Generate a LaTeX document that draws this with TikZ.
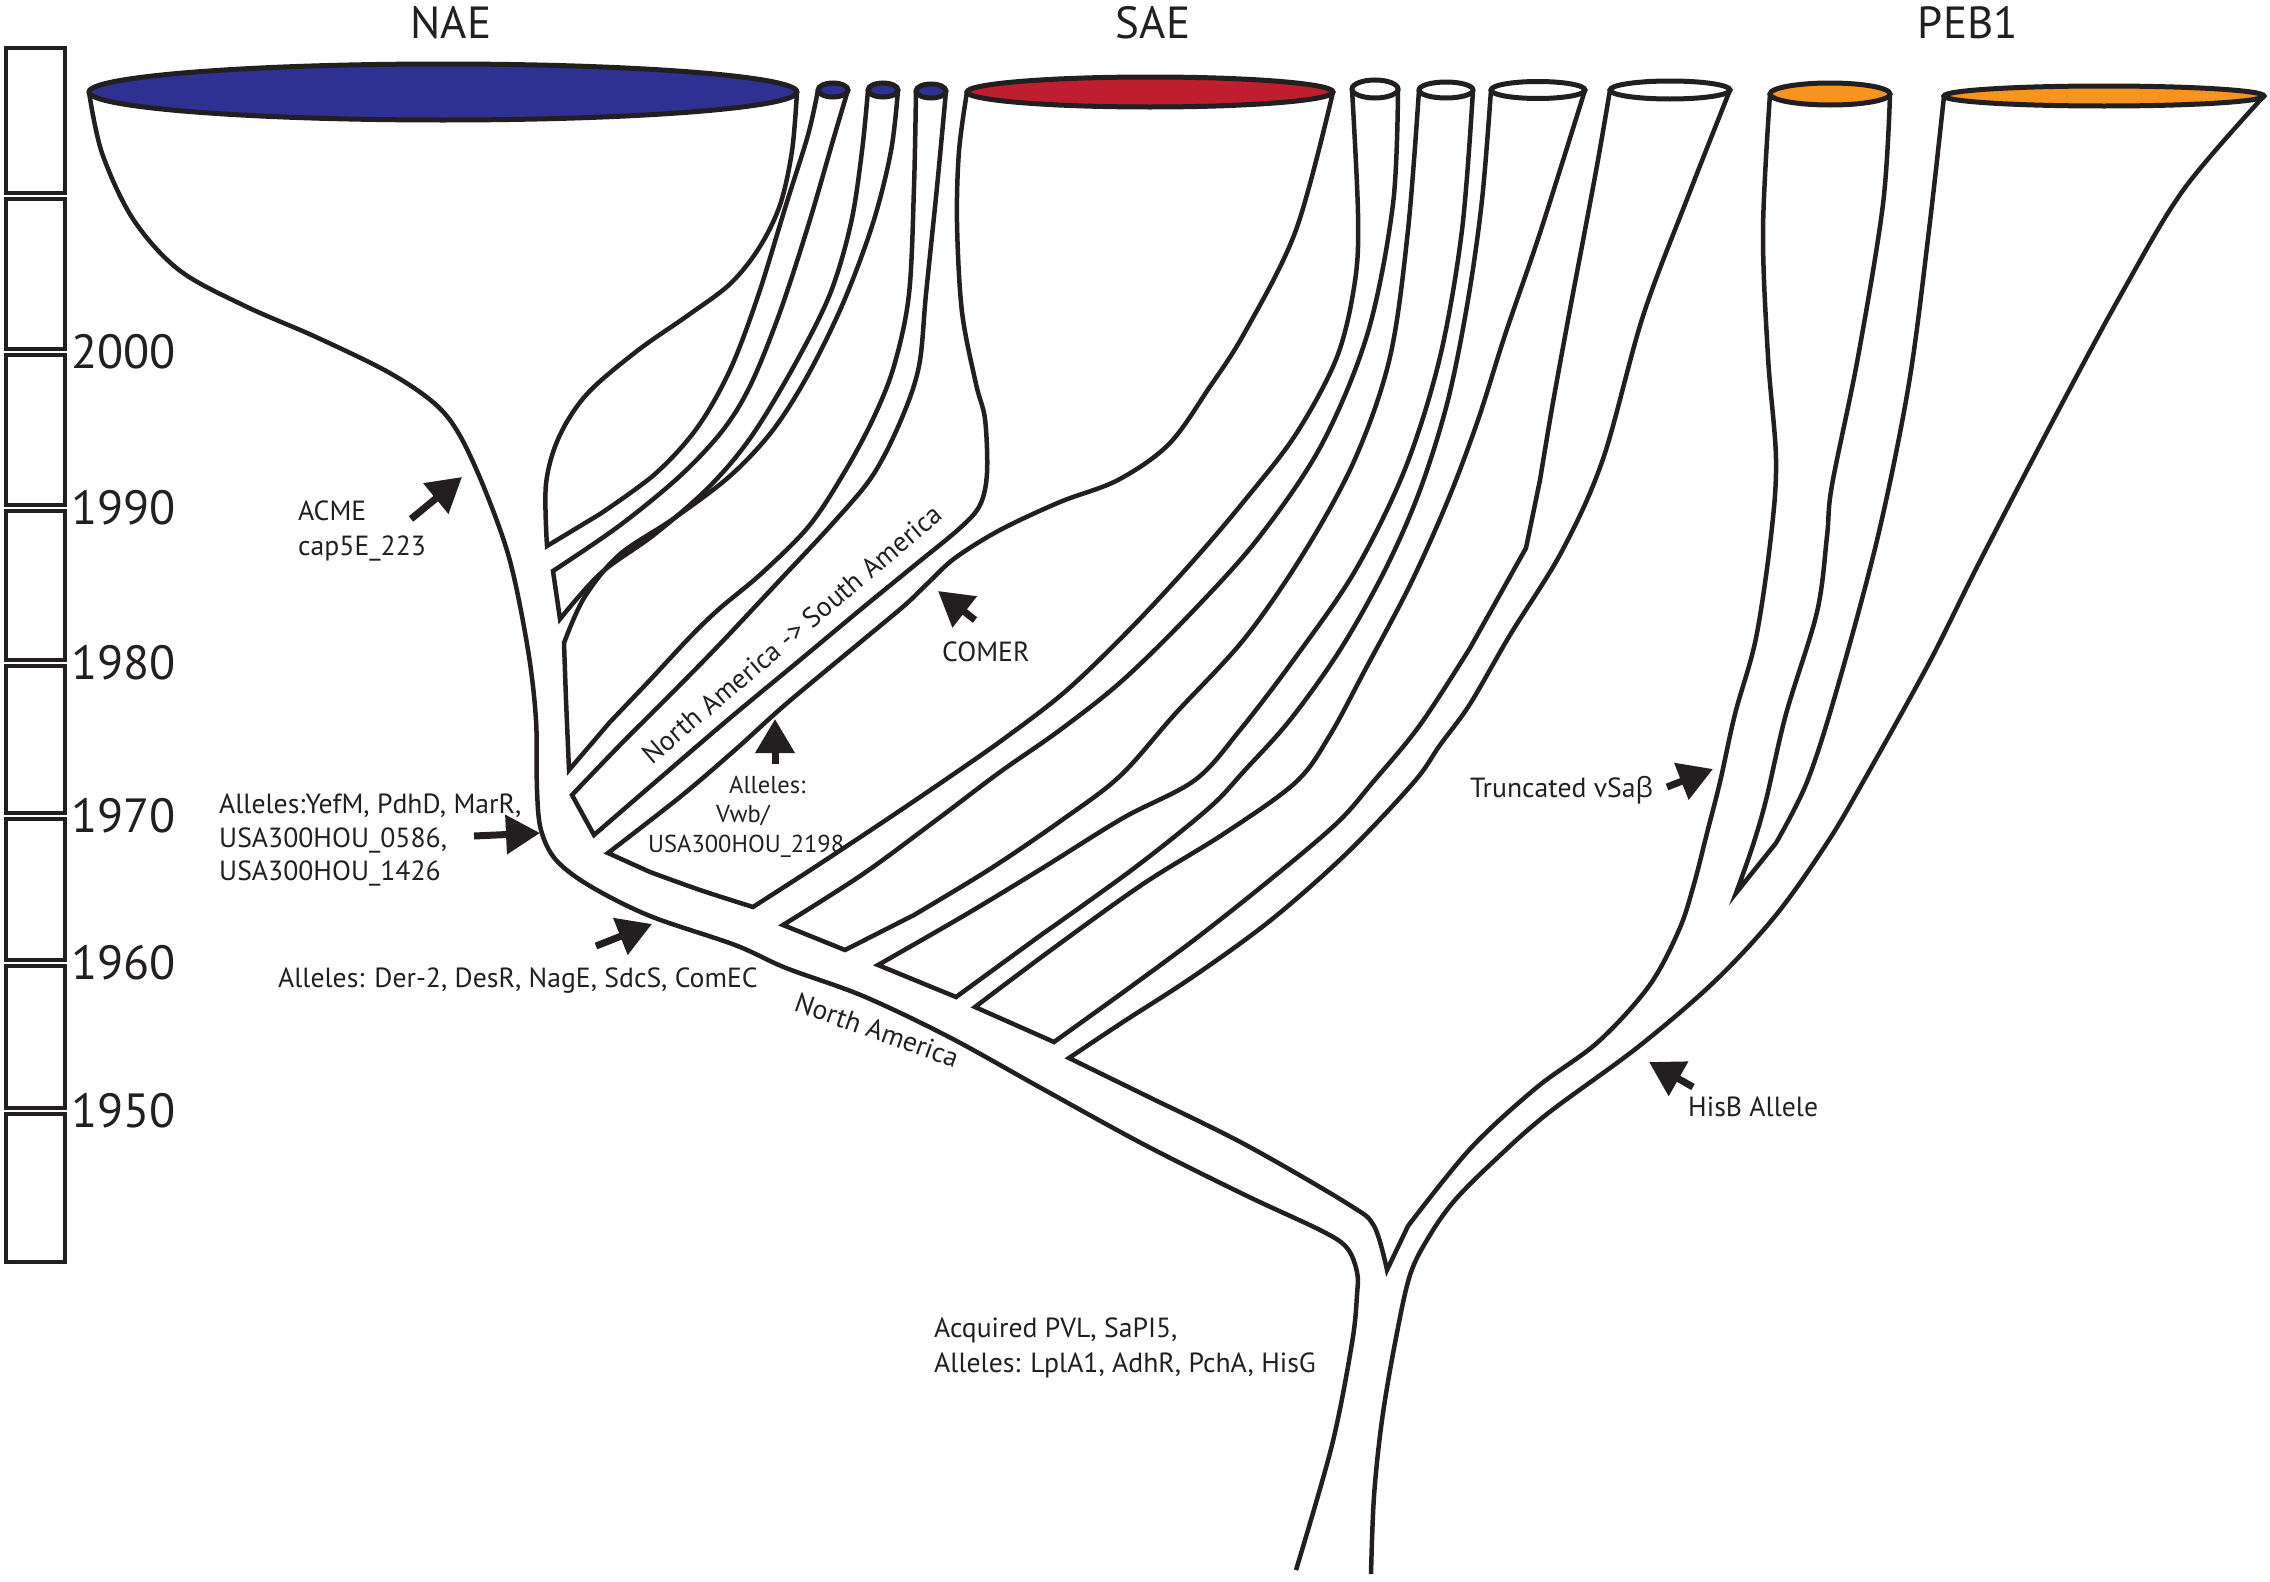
\documentclass[tikz,border=0pt]{standalone}
\usepackage{fontspec}
\setmainfont{PT Sans}
\newfontfamily\grk{Open Sans}
\usetikzlibrary{arrows.meta}
\definecolor{ink}{RGB}{35,31,32}
\definecolor{naeblue}{RGB}{46,49,146}
\definecolor{saered}{RGB}{190,30,45}
\definecolor{peborange}{RGB}{247,148,29}
\begin{document}
\begin{tikzpicture}[x=1pt,y=-1pt,
  outline/.style={draw=ink,line width=4.5pt,line join=miter,miter limit=12},
  rim/.style={draw=ink,line width=5pt},
  barbox/.style={draw=ink,line width=4pt},
  pointer/.style={draw=ink,line width=7pt,-{Triangle[length=34pt,width=38pt]}},
  yearlbl/.style={font=\fontsize{48}{52}\selectfont,text=ink,inner sep=0pt,anchor=west},
  headlbl/.style={font=\fontsize{45}{50}\selectfont,text=ink,inner sep=0pt},
  lbl/.style={font=\fontsize{27.7}{32}\selectfont,text=ink,inner sep=0pt,anchor=base west},
  smalllbl/.style={font=\fontsize{24.5}{29}\selectfont,text=ink,inner sep=0pt,anchor=base west}]
\useasboundingbox (0,0) rectangle (2270,1582);

% ---------- time bar ----------
\foreach \a/\b in {48/193,199/349,355/505,511/660,666/813,819/960,966/1108,1114/1262}
  \draw[barbox] (6,\a) rectangle (65,\b);
\node[yearlbl] (y2000) at (71,352) {2000};
\node[yearlbl] (y1990) at (71,508) {1990};
\node[yearlbl] (y1980) at (71,663) {1980};
\node[yearlbl] (y1970) at (71,816) {1970};
\node[yearlbl] (y1960) at (71,963) {1960};
\node[yearlbl] (y1950) at (71,1111) {1950};

% ---------- titles ----------
\node[headlbl] (tNAE) at (451,23) {NAE};
\node[headlbl] (tSAE) at (1153,23) {SAE};
\node[headlbl] (tPEB) at (1968,23) {PEB1};

% ---------- outer boundaries ----------
\draw[outline] plot[smooth,tension=0.55] coordinates {(89,92) (102,153) (133,219) (179,270) (245,306) (316,337) (388,372) (434,403) (459,434) (485,490) (510,561) (528,650) (536,720) (537,790) (541,830) (556,860) (590,886) (650,916) (735,945) (786,968) (863,996) (949,1037) (1041,1088) (1143,1144) (1245,1195) (1322,1231) (1347,1248) (1357,1272) (1357,1295) (1352,1343) (1332,1445) (1296,1570)};
\draw[outline] plot[smooth,tension=0.55] coordinates {(2264,96) (2184,189) (2123,291) (2057,413) (1980,561) (1929,663) (1863,782) (1827,843) (1776,915) (1715,981) (1638,1047) (1547,1114) (1495,1160) (1455,1200) (1430,1235) (1410,1275) (1395,1343) (1382,1420) (1374,1496) (1371,1574)};

% ---------- gaps between tubes ----------
% NAE | blue1
\draw[outline] plot[smooth,tension=0.55] coordinates {(797,92) (792,151) (780,205) (759,248) (730,284) (687,316) (637,351) (587,394) (559,437) (546,484) (547,546)} -- plot[smooth,tension=0.55] coordinates {(600,514) (655,474) (697,428) (730,370) (758,296) (786,205) (808,135) (818,90)};
% blue1 | blue2
\draw[outline] plot[smooth,tension=0.55] coordinates {(848,90) (834,137) (809,223) (780,312) (751,384) (723,430) (680,476) (619,526) (553,571)} -- plot[smooth,tension=0.55] coordinates {(560,619) (601,573) (655,534) (709,487) (751,437) (794,366) (830,294) (851,223) (862,151) (868,90)};
% blue2 | blue3
\draw[outline] plot[smooth,tension=0.55] coordinates {(898,90) (891,151) (873,223) (844,301) (809,373) (773,430) (730,476) (673,519) (619,555) (584,598) (564,643)} -- (566,700) -- (569,770) -- plot[smooth,tension=0.55] coordinates {(610,722) (650,680) (690,637) (719,609) (762,573) (809,526) (844,473) (873,419) (894,366) (909,294) (914,187) (916,91)};
% blue3 | SAE
\draw[outline] plot[smooth,tension=0.55] coordinates {(946,91) (937,187) (926,294) (919,366) (901,420) (873,475) (834,522) (780,580) (719,645) (670,695) (620,745) (572,795)} -- plot[smooth,tension=0.55] coordinates {(594,835) (660,778) (730,718) (800,660) (860,610) (915,565) (960,528) (980,505) (987,473) (985,419) (976,384) (962,312) (957,223) (959,151) (967,92)};
% SAE | w1
\draw[outline] plot[smooth,tension=0.55] coordinates {(1333,92) (1296,230) (1245,332) (1209,388) (1169,444) (1118,480) (1060,502) (1000,530) (955,558) (929,582) (905,605) (863,640) (786,704) (735,750) (680,797) (608,853)} -- plot[smooth,tension=0.55] coordinates {(650,872) (700,890) (753,907)} -- plot[smooth,tension=0.55] coordinates {(812,869) (880,824) (945,780) (1005,738) (1067,690) (1133,626) (1194,560) (1245,500) (1296,434) (1337,357) (1355,281) (1358,214) (1352,89)};
% w1 | w2
\draw[outline] plot[smooth,tension=0.55] coordinates {(1398,89) (1393,204) (1368,332) (1322,444) (1260,536) (1194,610) (1123,680) (1060,730) (1000,772) (939,818) (863,874) (783,925)} -- (845,950) -- plot[smooth,tension=0.55] coordinates {(914,915) (990,869) (1062,820) (1120,776) (1175,714) (1245,638) (1305,551) (1355,459) (1390,357) (1408,230) (1419,90)};
% w2 | w3
\draw[outline] plot[smooth,tension=0.55] coordinates {(1473,90) (1462,230) (1440,357) (1405,469) (1355,571) (1295,658) (1240,730) (1195,780) (1123,818) (1041,869) (965,915) (878,965)} -- (956,997) -- plot[smooth,tension=0.55] coordinates {(1041,935) (1133,869) (1209,808) (1245,770) (1290,720) (1340,650) (1385,570) (1420,490) (1448,400) (1468,300) (1482,200) (1491,90)};
% w3 | w4
\draw[outline] plot[smooth,tension=0.55] coordinates {(1585,90) (1560,170) (1536,245) (1505,335) (1478,420) (1448,500) (1410,585) (1365,670) (1330,735) (1296,782) (1225,833) (1143,884) (1051,950) (975,1007)} -- (1054,1042) -- plot[smooth,tension=0.55] coordinates {(1118,996) (1194,940) (1271,879) (1337,823) (1373,782) (1420,725) (1470,648)} -- (1526,548) -- plot[smooth,tension=0.55] coordinates {(1540,480) (1552,408) (1568,320) (1585,230) (1598,160) (1610,90)};
% w4 | PEB small
\draw[outline] plot[smooth,tension=0.55] coordinates {(1730,90) (1689,194) (1643,316) (1603,459) (1562,551) (1510,635) (1470,704) (1440,745) (1414,782) (1347,853) (1271,920) (1194,976) (1123,1022) (1069,1058)} -- plot[smooth,tension=0.55] coordinates {(1157,1101) (1246,1145) (1348,1204) (1374,1226) (1387,1270)} -- plot[smooth,tension=0.55] coordinates {(1408,1226) (1470,1149) (1536,1088) (1598,1042) (1649,986) (1679,930) (1694,884) (1707,833) (1720,782) (1735,714) (1756,638) (1771,536) (1776,459) (1768,357) (1763,230) (1770,94)};
% PEB small | PEB big
\draw[outline] plot[smooth,tension=0.55] coordinates {(1890,94) (1883,204) (1858,357) (1832,485) (1827,536) (1817,612) (1786,714) (1766,800) (1752,848) (1736,893)} -- plot[smooth,tension=0.55] coordinates {(1776,843) (1807,782) (1837,689) (1878,536) (1909,383) (1929,230) (1944,96)};

% ---------- tube mouths ----------
\draw[rim,fill=naeblue] (443,92) ellipse [x radius=354,y radius=28];
\draw[rim,fill=naeblue] (833,90) ellipse [x radius=15,y radius=7];
\draw[rim,fill=naeblue] (883,90) ellipse [x radius=15,y radius=7];
\draw[rim,fill=naeblue] (931,91) ellipse [x radius=15,y radius=7];
\draw[rim,fill=saered] (1150,92) ellipse [x radius=183,y radius=15];
\draw[rim,fill=white] (1375,89) ellipse [x radius=23,y radius=9];
\draw[rim,fill=white] (1446,90) ellipse [x radius=27,y radius=8];
\draw[rim,fill=white] (1538,90) ellipse [x radius=47,y radius=8.5];
\draw[rim,fill=white] (1670,90) ellipse [x radius=60,y radius=9];
\draw[rim,fill=peborange] (1830,94) ellipse [x radius=60,y radius=11];
\draw[rim,fill=peborange] (2104,96) ellipse [x radius=160,y radius=10];

% ---------- labels ----------
\node[lbl] (acme1) at (298,520) {ACME};
\node[lbl] (acme2) at (298,555) {cap5E\_223};
\node[lbl] (yef1) at (219,813) {Alleles:YefM, PdhD, MarR,};
\node[lbl] (yef2) at (219,847) {USA300HOU\_0586,};
\node[lbl] (yef3) at (219,880) {USA300HOU\_1426};
\node[lbl] (der) at (278,987) {Alleles: Der-2, DesR, NagE, SdcS, ComEC};
\node[lbl,anchor=center,rotate=-19.5] (na) at (877,1030) {North America};
\node[lbl,anchor=center,rotate=40.3] (nasa) at (792,634) {North America -> South America};
\node[lbl] (comer) at (942,661) {COMER};
\node[smalllbl] (vwb1) at (729,793) {Alleles:};
\node[smalllbl] (vwb2) at (716,822) {Vwb/};
\node[smalllbl] (vwb3) at (648,852) {USA300HOU\_2198};
\node[lbl] (pvl1) at (934,1337) {Acquired PVL, SaPI5,};
\node[lbl] (pvl2) at (934,1372) {Alleles: LplA1, AdhR, PchA, HisG};
\node[lbl] (trunc) at (1470,797) {Truncated vSa{\grk β}};
\node[lbl] (hisb) at (1688,1116) {HisB Allele};

% ---------- pointers ----------
\coordinate (pA1) at (411,519); \coordinate (pA2) at (462,477);
\coordinate (pY1) at (474,836); \coordinate (pY2) at (540,833);
\coordinate (pD1) at (596,946); \coordinate (pD2) at (652,924);
\coordinate (pC1) at (975,620); \coordinate (pC2) at (938,591);
\coordinate (pV1) at (775,764); \coordinate (pV2) at (775,719);
\coordinate (pT1) at (1667,787); \coordinate (pT2) at (1713,769);
\coordinate (pH1) at (1693,1087); \coordinate (pH2) at (1649,1062);
\draw[pointer] (pA1) -- (pA2);
\draw[pointer] (pY1) -- (pY2);
\draw[pointer] (pD1) -- (pD2);
\draw[pointer] (pC1) -- (pC2);
\draw[pointer] (pV1) -- (pV2);
\draw[pointer] (pT1) -- (pT2);
\draw[pointer] (pH1) -- (pH2);
\end{tikzpicture}
\end{document}
